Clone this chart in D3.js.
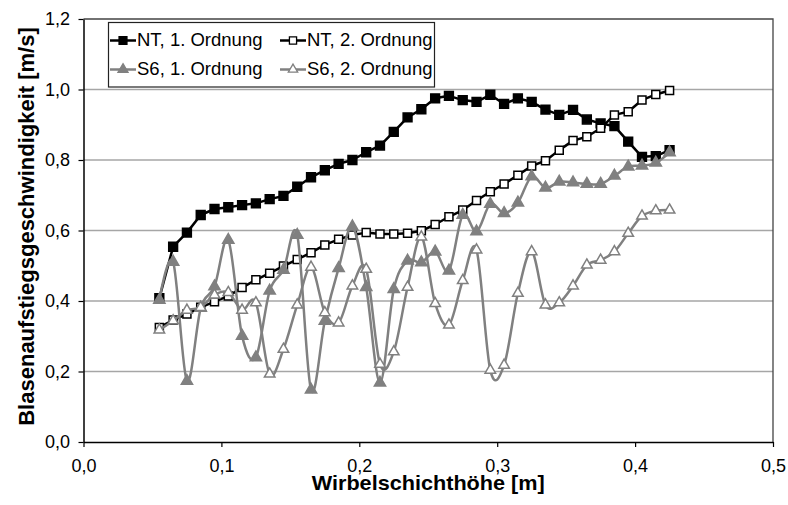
<!DOCTYPE html>
<html>
<head>
<meta charset="utf-8">
<script src="https://cdn.jsdelivr.net/npm/d3@7"></script>
<style>
  body { margin: 0; background: #fff; }
  text { font-family: "Liberation Sans", Arial, sans-serif; }
</style>
</head>
<body>
<div id="chart"></div>
<script>
// Wirbelschichthöhe [m]
const heights = [0.055, 0.065, 0.075, 0.085, 0.095, 0.105, 0.115, 0.125, 0.135, 0.145,
    0.155, 0.165, 0.175, 0.185, 0.195, 0.205, 0.215, 0.225, 0.235, 0.245,
    0.255, 0.265, 0.275, 0.285, 0.295, 0.305, 0.315, 0.325, 0.335, 0.345,
    0.355, 0.365, 0.375, 0.385, 0.395, 0.405, 0.415, 0.425];

const nt1 = [0.408, 0.554, 0.594, 0.644, 0.661, 0.666, 0.672, 0.677, 0.689, 0.698,
    0.724, 0.751, 0.771, 0.789, 0.800, 0.822, 0.841, 0.880, 0.921, 0.944,
    0.975, 0.982, 0.970, 0.965, 0.985, 0.959, 0.975, 0.965, 0.943, 0.928,
    0.942, 0.915, 0.904, 0.896, 0.852, 0.809, 0.811, 0.828];

const nt2 = [0.325, 0.346, 0.363, 0.382, 0.398, 0.414, 0.438, 0.460, 0.479, 0.499,
    0.518, 0.537, 0.559, 0.575, 0.587, 0.594, 0.590, 0.590, 0.592, 0.599,
    0.617, 0.639, 0.658, 0.685, 0.710, 0.732, 0.757, 0.783, 0.798, 0.828,
    0.855, 0.866, 0.890, 0.928, 0.937, 0.970, 0.986, 0.997];

const s6a = [0.403, 0.511, 0.173, 0.380, 0.441, 0.573, 0.301, 0.240, 0.429, 0.488,
    0.587, 0.148, 0.343, 0.493, 0.611, 0.439, 0.168, 0.433, 0.514, 0.509,
    0.540, 0.486, 0.644, 0.597, 0.675, 0.649, 0.679, 0.753, 0.721, 0.738,
    0.736, 0.732, 0.732, 0.755, 0.781, 0.784, 0.792, 0.821];

const s6b = [0.318, 0.344, 0.374, 0.382, 0.417, 0.424, 0.374, 0.395, 0.193, 0.263,
    0.389, 0.496, 0.367, 0.338, 0.443, 0.490, 0.221, 0.256, 0.439, 0.582,
    0.393, 0.332, 0.458, 0.545, 0.204, 0.218, 0.422, 0.540, 0.389, 0.395,
    0.443, 0.502, 0.516, 0.540, 0.592, 0.641, 0.656, 0.658];

const seriesNames = ["NT, 1. Ordnung", "NT, 2. Ordnung", "S6, 1. Ordnung", "S6, 2. Ordnung"];

const xTicks = [0, 0.1, 0.2, 0.3, 0.4, 0.5];
const xTickLabels = ["0,0", "0,1", "0,2", "0,3", "0,4", "0,5"];
const yTicks = [0, 0.2, 0.4, 0.6, 0.8, 1.0, 1.2];
const yTickLabels = ["0,0", "0,2", "0,4", "0,6", "0,8", "1,0", "1,2"];

const xTitle = "Wirbelschichthöhe [m]";
const yTitle = "Blasenaufstiegsgeschwindigkeit [m/s]";

// styles per series
const styles = [
    { color: "#000", fill: "#000", symbol: d3.symbolSquare, size: 78, smooth: false },
    { color: "#000", fill: "#fff", symbol: d3.symbolSquare, size: 64, smooth: false },
    { color: "#808080", fill: "#808080", symbol: d3.symbolTriangle, size: 55, smooth: true },
    { color: "#808080", fill: "#fff", symbol: d3.symbolTriangle, size: 48, smooth: true }
];

const seriesValues = [nt1, nt2, s6a, s6b];
const series = seriesNames.map((name, i) => ({
    name: name,
    style: styles[i],
    points: heights.map((h, j) => ({ x: h, y: seriesValues[i][j] }))
}));

const width = 788, height = 505;
const margin = { top: 19, right: 15, bottom: 63, left: 83.5 };

const svg = d3.select("#chart")
    .append("svg")
    .attr("width", width)
    .attr("height", height);

const x = d3.scaleLinear()
    .domain([0, 0.5])
    .range([margin.left, width - margin.right]);

const y = d3.scaleLinear()
    .domain([0, 1.2])
    .range([height - margin.bottom, margin.top]);

// gridlines
svg.append("g")
    .selectAll("line")
    .data(yTicks.filter(d => d > 0 && d < 1.2))
    .enter()
    .append("line")
    .attr("x1", x(0))
    .attr("x2", x(0.5))
    .attr("y1", d => y(d))
    .attr("y2", d => y(d))
    .attr("stroke", "#a6a6a6")
    .attr("stroke-width", 1.3);

// plot frame (top + right)
svg.append("path")
    .attr("d", `M${x(0)},${y(1.2)}H${x(0.5)}V${y(0)}`)
    .attr("fill", "none")
    .attr("stroke", "#444")
    .attr("stroke-width", 1.3);

// axes
const xAxis = svg.append("g")
    .attr("transform", `translate(0,${y(0)})`)
    .call(d3.axisBottom(x)
        .tickValues(xTicks)
        .tickFormat((d, i) => xTickLabels[i])
        .tickSizeInner(5)
        .tickSizeOuter(0)
        .tickPadding(12));

const yAxis = svg.append("g")
    .attr("transform", `translate(${x(0)},0)`)
    .call(d3.axisLeft(y)
        .tickValues(yTicks)
        .tickFormat((d, i) => yTickLabels[i])
        .tickSizeInner(5)
        .tickSizeOuter(0)
        .tickPadding(8.5));

[xAxis, yAxis].forEach(ax => {
    ax.select(".domain").attr("stroke", "#000").attr("stroke-width", 1.5);
    ax.selectAll(".tick line").attr("stroke", "#000").attr("stroke-width", 1.2);
    ax.selectAll(".tick text")
        .attr("fill", "#000")
        .style("font-size", "18px")
        .style("font-family", '"Liberation Sans", Arial, sans-serif');
});

// series
series.forEach(s => {
    const line = d3.line()
        .x(d => x(d.x))
        .y(d => y(d.y))
        .curve(s.style.smooth ? d3.curveCardinal.tension(0) : d3.curveLinear);

    const g = svg.append("g");
    g.append("path")
        .datum(s.points)
        .attr("d", line)
        .attr("fill", "none")
        .attr("stroke", s.style.color)
        .attr("stroke-width", 2.5)
        .attr("stroke-linejoin", "round");

    g.selectAll(".mark")
        .data(s.points)
        .enter()
        .append("path")
        .attr("transform", d => `translate(${x(d.x)},${y(d.y)})`)
        .attr("d", d3.symbol().type(s.style.symbol).size(s.style.size))
        .attr("fill", s.style.fill)
        .attr("stroke", s.style.color)
        .attr("stroke-width", 1.5);
});

// legend
const legend = svg.append("g");
legend.append("rect")
    .attr("x", 108.5)
    .attr("y", 22.5)
    .attr("width", 326)
    .attr("height", 64.5)
    .attr("fill", "#fff")
    .attr("stroke", "#222")
    .attr("stroke-width", 1.2);

const legendPos = [[110, 40.5], [280, 40.5], [110, 69.5], [280, 69.5]];
series.forEach((s, i) => {
    const [lx, ly] = legendPos[i];
    legend.append("line")
        .attr("x1", lx)
        .attr("x2", lx + 26)
        .attr("y1", ly)
        .attr("y2", ly)
        .attr("stroke", s.style.color)
        .attr("stroke-width", 2.5);
    legend.append("path")
        .attr("transform", `translate(${lx + 13},${ly})`)
        .attr("d", d3.symbol().type(s.style.symbol).size(s.style.size * 0.8))
        .attr("fill", s.style.fill)
        .attr("stroke", s.style.color)
        .attr("stroke-width", 1.3);
    legend.append("text")
        .attr("x", lx + 27)
        .attr("y", ly + 5.5)
        .style("font-size", "18.5px")
        .attr("fill", "#000")
        .text(s.name);
});

// axis titles
svg.append("text")
    .attr("x", (x(0) + x(0.5)) / 2)
    .attr("y", 490)
    .attr("text-anchor", "middle")
    .style("font-size", "21px")
    .style("font-weight", "bold")
    .attr("textLength", 233)
    .attr("lengthAdjust", "spacingAndGlyphs")
    .text(xTitle);

svg.append("text")
    .attr("transform", `translate(33.5,${(y(0) + y(1.2)) / 2 - 4}) rotate(-90)`)
    .attr("text-anchor", "middle")
    .style("font-size", "22px")
    .style("font-weight", "bold")
    .text(yTitle);
</script>
</body>
</html>
